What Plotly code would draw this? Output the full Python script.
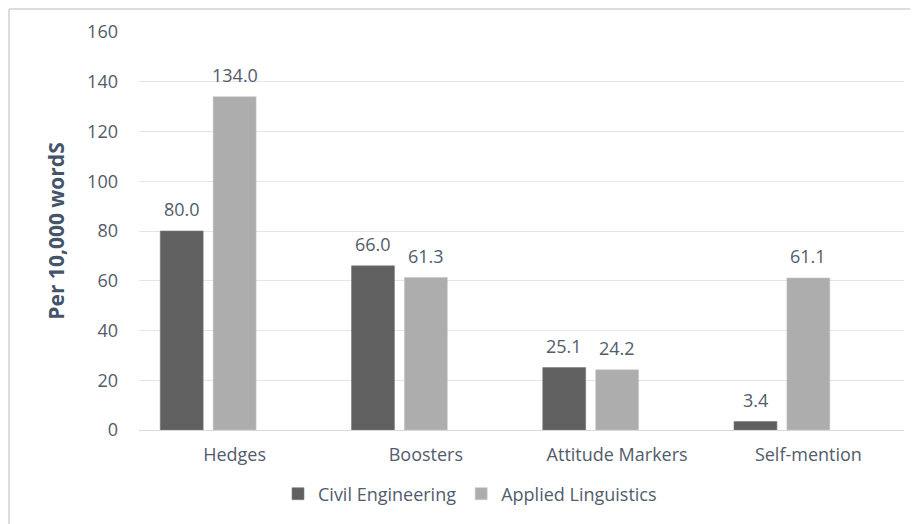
import plotly.graph_objects as go

categories = ["Hedges", "Boosters", "Attitude Markers", "Self-mention"]
civil_engineering = [80.0, 66.0, 25.1, 3.4]
applied_linguistics = [134.0, 61.3, 24.2, 61.1]
empty_series = [None, None, None, None]
y_ticks = [0, 20, 40, 60, 80, 100, 120, 140, 160]

# page body has an 8px margin, so figure is 910x516
W, H = 910, 516
ML, MR, MT, MB = 131, 14, 24, 94
pw = W - ML - MR
ph = H - MT - MB

text_color = "#525c6b"
font_family = "Open Sans, Calibri, Carlito, sans-serif"

fig = go.Figure()
fig.add_trace(go.Bar(
    x=categories, y=civil_engineering, name="Civil Engineering",
    marker=dict(color="#606060", line=dict(color="#7a7a7a", width=0.6)),
))
fig.add_trace(go.Bar(
    x=categories, y=applied_linguistics, name="Applied Linguistics",
    marker=dict(color="#adadad", line=dict(color="#c8c8c8", width=0.6)),
))
fig.add_trace(go.Bar(
    x=categories, y=empty_series, name="", showlegend=False,
    marker=dict(color="rgba(0,0,0,0)"), hoverinfo="skip",
))

# data labels (placed via annotations to get Excel-like padding)
annotations = []
for trace_idx, values in enumerate([civil_engineering, applied_linguistics]):
    for cat, v in zip(categories, values):
        annotations.append(dict(
            x=cat, y=v, xref="x", yref="y", text=f"{v:.1f}",
            showarrow=False, yanchor="bottom", xanchor="center",
            xshift=(trace_idx - 1) * 53, yshift=8,
            font=dict(size=18, color=text_color, family=font_family),
        ))


def px_x(p):
    return (p - ML) / pw


def px_y(p):
    return (H - MB - p) / ph


fig.update_layout(
    width=W, height=H,
    margin=dict(l=ML, r=MR, t=MT, b=MB),
    paper_bgcolor="white", plot_bgcolor="white",
    barmode="group", bargap=0.17, bargroupgap=0.189,
    font=dict(family=font_family, color=text_color, size=18),
    showlegend=True,
    legend=dict(orientation="h", x=px_x(462), xanchor="center",
                y=px_y(486), yanchor="middle",
                font=dict(size=18, color=text_color, family=font_family),
                itemwidth=30, traceorder="normal"),
    xaxis=dict(showgrid=False, showline=True, linecolor="#d9d9d9", linewidth=1,
               ticks="", tickfont=dict(size=18, color=text_color),
               ticklabelstandoff=8),
    yaxis=dict(range=[0, 160], tickvals=y_ticks, showgrid=True,
               gridcolor="#e4e4ea", gridwidth=1, zeroline=False,
               showline=False, ticks="", ticklabelstandoff=20,
               tickfont=dict(size=18, color=text_color),
               title=dict(text="<b>Per 10,000 wordS</b>",
                          font=dict(size=21, color="#44546a"), standoff=16)),
    annotations=annotations,
    shapes=[
        dict(type="line", xref="paper", yref="paper",
             x0=px_x(1), x1=px_x(W + 5), y0=px_y(1), y1=px_y(1),
             line=dict(color="#dadde2", width=2)),
        dict(type="line", xref="paper", yref="paper",
             x0=px_x(1), x1=px_x(1), y0=px_y(1), y1=px_y(H + 5),
             line=dict(color="#dadde2", width=2)),
    ],
)

fig.write_html("out.html")
